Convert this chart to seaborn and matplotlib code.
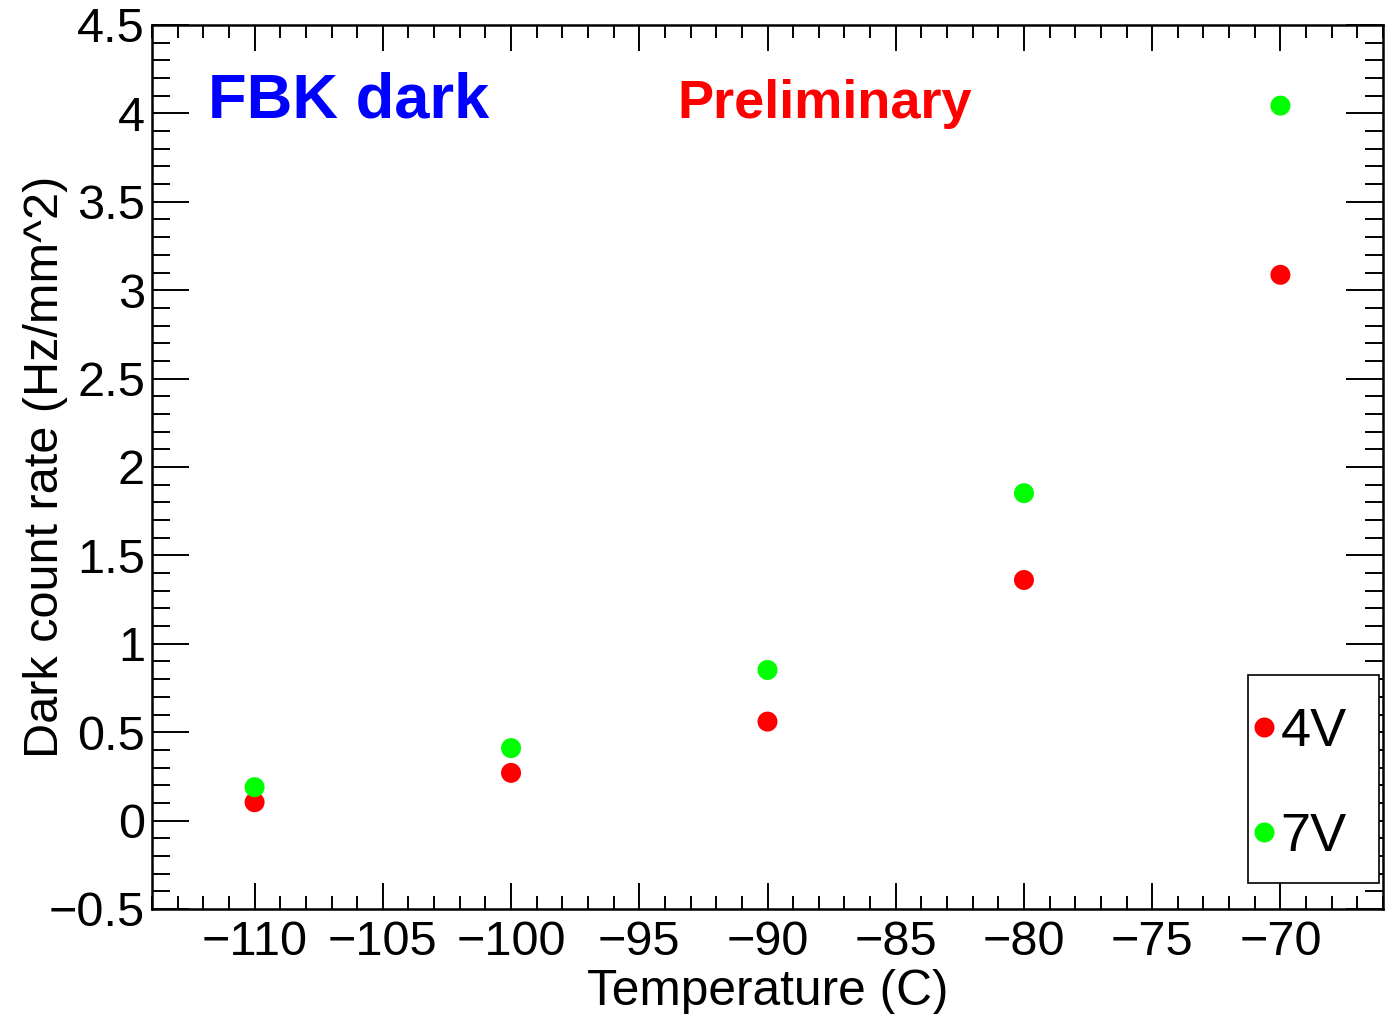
import matplotlib
matplotlib.use("Agg")
import matplotlib.pyplot as plt
from matplotlib.ticker import MultipleLocator, FuncFormatter
from matplotlib.patches import Rectangle
import seaborn as sns
import pandas as pd

# ---- data ----
temperatures = [-110, -100, -90, -80, -70]
rate_4V = [0.104, 0.27, 0.56, 1.361, 3.087]
rate_7V = [0.189, 0.41, 0.852, 1.852, 4.044]
series_labels = ["4V", "7V"]
series_colors = ["#ff0000", "#00ff00"]

df = pd.DataFrame({
    "Temperature": temperatures * 2,
    "Rate": rate_4V + rate_7V,
    "Voltage": [series_labels[0]] * len(temperatures) + [series_labels[1]] * len(temperatures),
})

sns.set_style("white")
plt.rcParams["font.family"] = ["Liberation Sans", "DejaVu Sans"]
plt.rcParams["axes.unicode_minus"] = True
plt.rcParams["text.color"] = "black"
plt.rcParams["axes.labelcolor"] = "black"

fig = plt.figure(figsize=(13.92, 10.14), dpi=100)
ax = fig.add_axes([152 / 1392, 1 - 909 / 1014, (1383 - 152) / 1392, (909 - 25) / 1014])

sns.scatterplot(data=df, x="Temperature", y="Rate", hue="Voltage",
                palette=dict(zip(series_labels, series_colors)),
                s=207, linewidth=0, edgecolor="none", ax=ax, legend=True, zorder=3)

ax.set_xlim(-114, -66)
ax.set_ylim(-0.5, 4.5)

ax.xaxis.set_major_locator(MultipleLocator(5))
ax.xaxis.set_minor_locator(MultipleLocator(1))
ax.yaxis.set_major_locator(MultipleLocator(0.5))
ax.yaxis.set_minor_locator(MultipleLocator(0.1))

fmt = FuncFormatter(lambda v, p: ("%g" % round(v, 6)).replace("-", "\u2212"))
ax.xaxis.set_major_formatter(fmt)
ax.yaxis.set_major_formatter(fmt)

for sp in ax.spines.values():
    sp.set_linewidth(1.8)
    sp.set_color("black")
    sp.set_visible(True)

ax.tick_params(axis="both", which="both", direction="in",
               top=True, right=True, bottom=True, left=True,
               color="black", width=1.4, labelsize=35, labelcolor="black")
ax.tick_params(axis="x", which="major", length=18.7, pad=8)
ax.tick_params(axis="x", which="minor", length=9.4)
ax.tick_params(axis="y", which="major", length=26.6, pad=5)
ax.tick_params(axis="y", which="minor", length=13)

ax.set_xlabel("Temperature (C)", fontsize=35.7, labelpad=3, color="black")
ax.set_ylabel("Dark count rate (Hz/mm^2)", fontsize=35, color="black")
ax.yaxis.set_label_coords(-0.068, 0.5)

ax.text(0.0455, 0.8948, "FBK dark", transform=ax.transAxes, color="#0000ff",
        fontsize=45.5, fontweight="bold", ha="left", va="baseline")
ax.text(0.4265, 0.8948, "Preliminary", transform=ax.transAxes, color="#ff0000",
        fontsize=39, fontweight="bold", ha="left", va="baseline")

# legend
handles, labels = ax.get_legend_handles_labels()
if ax.get_legend():
    ax.get_legend().remove()
box = Rectangle((0.890, 0.0294), 0.107, 0.2353, transform=ax.transAxes,
                facecolor="white", edgecolor="black", linewidth=1.2,
                zorder=4, clip_on=False)
ax.add_patch(box)
leg = ax.legend(handles, labels, loc="center", bbox_to_anchor=(0.9326, 0.1408),
                frameon=False, fontsize=39, handlelength=0.4, handletextpad=0.1,
                labelspacing=1.02, borderpad=0, markerscale=1.0)
for t in leg.get_texts():
    t.set_color("black")
leg.set_zorder(5)

fig.savefig("out.png", dpi=100, facecolor="white")
